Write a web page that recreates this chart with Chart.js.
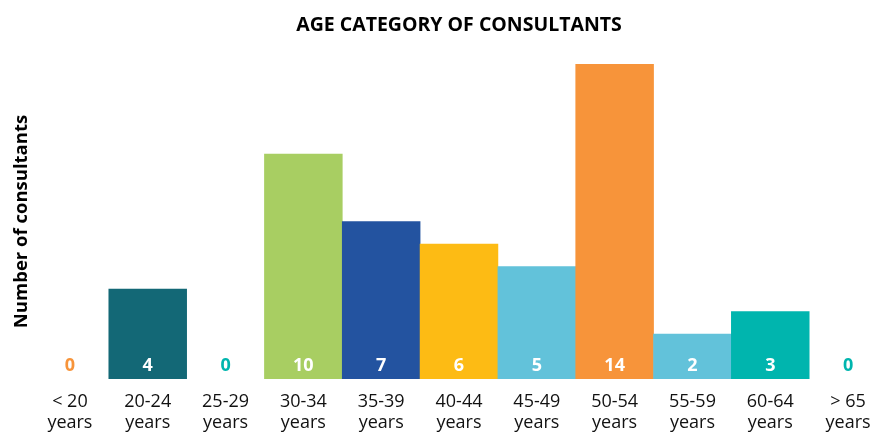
<!DOCTYPE html>
<html lang="en">
<head>
    <meta charset="UTF-8">
    <title>Age Category of Consultants</title>
    <script src="https://cdn.jsdelivr.net/npm/chart.js"></script>
    <style>
        html, body {
            margin: 0;
            padding: 0;
            background: #ffffff;
            overflow: hidden;
        }

        .chart-container {
            position: relative;
            width: 912px;
            height: 432px;
        }
    </style>
</head>
<body>
    <div class="chart-container">
        <canvas id="ageChart"></canvas>
    </div>

    <script>
        const ageLabels = [
            ['< 20', 'years'], ['20-24', 'years'], ['25-29', 'years'], ['30-34', 'years'],
            ['35-39', 'years'], ['40-44', 'years'], ['45-49', 'years'], ['50-54', 'years'],
            ['55-59', 'years'], ['60-64', 'years'], ['> 65', 'years']
        ];
        const consultantCounts = [0, 4, 0, 10, 7, 6, 5, 14, 2, 3, 0];
        const barColors = ['#F7943A', '#136876', '#00B5AE', '#A8CE62', '#2353A0', '#FDBB14',
            '#62C2DA', '#F7943A', '#62C2DA', '#00B5AE', '#00B5AE'];

        const font = '"Open Sans", sans-serif';

        // numbers written at the foot of each bar
        const valueLabels = {
            id: 'valueLabels',
            afterDatasetsDraw(chart) {
                const ctx = chart.ctx;
                const meta = chart.getDatasetMeta(0);
                const base = chart.scales.y.getPixelForValue(0);
                ctx.save();
                ctx.font = 'bold 18px ' + font;
                ctx.textAlign = 'center';
                ctx.textBaseline = 'middle';
                meta.data.forEach((bar, i) => {
                    const v = consultantCounts[i];
                    ctx.fillStyle = v > 0 ? '#ffffff' : barColors[i];
                    ctx.fillText(String(v), bar.x, base - 13);
                });
                ctx.restore();
            }
        };

        new Chart(document.getElementById('ageChart').getContext('2d'), {
            type: 'bar',
            data: {
                labels: ageLabels,
                datasets: [{
                    data: consultantCounts,
                    // zero bars would leave a hairline at the base
                    backgroundColor: (c) => consultantCounts[c.dataIndex] > 0 ? barColors[c.dataIndex] : 'rgba(0,0,0,0)',
                    borderWidth: 0,
                    barPercentage: 1,
                    categoryPercentage: 1
                }]
            },
            options: {
                responsive: true,
                maintainAspectRatio: false,
                animation: false,
                layout: { padding: { left: 0, right: 25, top: 0, bottom: 0 } },
                plugins: {
                    legend: { display: false },
                    tooltip: { enabled: false },
                    title: {
                        display: true,
                        text: 'AGE CATEGORY OF CONSULTANTS',
                        fullSize: false,
                        color: '#000000',
                        font: { family: font, size: 19.5, weight: 'bold' },
                        padding: { top: 14, bottom: 26.6 }
                    }
                },
                scales: {
                    x: {
                        grid: { display: false, drawTicks: false },
                        border: { display: false },
                        ticks: {
                            color: '#111111',
                            padding: 13,
                            maxRotation: 0,
                            autoSkip: false,
                            font: { family: font, size: 18, lineHeight: 1.15 }
                        },
                        afterFit(scale) { scale.height = 53; }
                    },
                    y: {
                        min: 0,
                        max: 14,
                        grid: { display: false, drawTicks: false },
                        border: { display: false },
                        ticks: { display: false },
                        title: {
                            display: true,
                            text: 'Number of consultants',
                            color: '#000000',
                            font: { family: font, size: 18.5, weight: 'bold' },
                            padding: { top: 11, bottom: 0 }
                        },
                        afterFit(scale) { scale.width = 31; }
                    }
                }
            },
            plugins: [valueLabels]
        });
    </script>
</body>
</html>
